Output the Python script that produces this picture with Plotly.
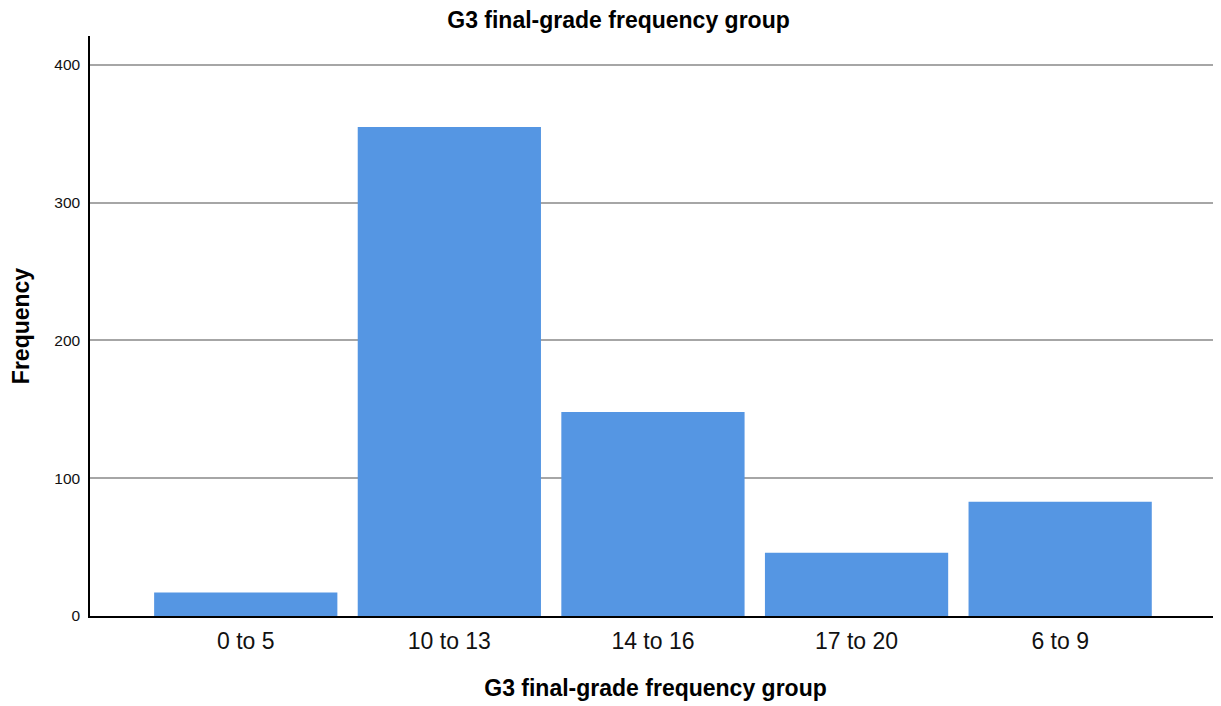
import plotly.graph_objects as go

categories = ["0 to 5", "10 to 13", "14 to 16", "17 to 20", "6 to 9"]
frequency = [17, 355, 148, 46, 83]
y_ticks = [0, 100, 200, 300, 400]

fig = go.Figure(go.Bar(x=categories, y=frequency, marker_color="#5596E3",
                       marker_line_width=0))

# page body has an 8px margin; margins compensate so the plot lands where the reference has it
fig.update_layout(
    width=1221, height=706,
    margin=dict(l=80, r=8, t=28, b=98),
    paper_bgcolor="white", plot_bgcolor="white",
    bargap=0.1,
    font=dict(family="Liberation Sans, Arial, sans-serif", color="black"),
    title=dict(text="<b>G3 final-grade frequency group</b>", x=0.5, xanchor="center",
               y=1 - 11.5 / 706, yanchor="middle", font=dict(size=23, color="black")),
    showlegend=False,
)
fig.update_xaxes(
    range=[-0.765, 4.79], showline=True, linecolor="black", linewidth=1.5,
    ticks="", ticklabelstandoff=4, tickfont=dict(size=23, color="#111"),
    title=dict(text="<b>G3 final-grade frequency group</b>", font=dict(size=23), standoff=27),
    showgrid=False,
)
fig.update_yaxes(
    range=[0, 421], tickvals=y_ticks, showline=True, linecolor="black", linewidth=1.5,
    showgrid=True, gridcolor="#a6a6a6", gridwidth=1.5, zeroline=False,
    ticks="", ticklabelstandoff=5, tickfont=dict(size=15.5, color="#111"),
    title=dict(text="<b>Frequency</b>", font=dict(size=23), standoff=22),
)

fig.write_html("out.html")
